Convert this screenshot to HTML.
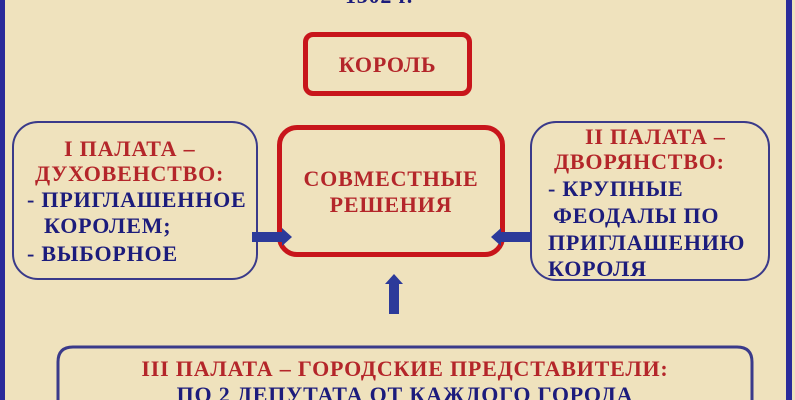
<!DOCTYPE html>
<html style="margin:0;width:795px;height:400px;overflow:hidden"><head><meta charset="utf-8"><style>
body{margin:0;width:795px;height:400px;overflow:hidden;background:#efe2bd;font-family:"Liberation Serif",serif;font-weight:bold}
#w{position:relative;width:795px;height:400px;overflow:hidden}
.b{position:absolute;box-sizing:border-box}
.r{color:#b4262a}.u{color:#1c1c7c}
.t{position:absolute;font-size:22px;line-height:26px;letter-spacing:0.8px;white-space:nowrap}
</style></head><body><div id="w">
<div class="b" style="left:0;top:0;width:5px;height:400px;background:#2a2a9a"></div>
<div class="b" style="left:786px;top:0;width:6px;height:400px;background:#2a2a9a"></div>
<div class="t u" style="left:345px;top:-17px">1302 г.</div>
<div class="b" style="left:303px;top:32px;width:169px;height:64px;border:5px solid #c8151b;border-radius:10px"></div>
<div class="t r" style="left:303px;top:52px;width:169px;text-align:center">КОРОЛЬ</div>
<div class="b" style="left:12px;top:121px;width:246px;height:159px;border:2px solid #3a3a8a;border-radius:26px"></div>
<div class="t r" style="left:64px;top:136px">I ПАЛАТА –</div>
<div class="t r" style="left:35px;top:161px">ДУХОВЕНСТВО:</div>
<div class="t u" style="left:27px;top:187px">- ПРИГЛАШЕННОЕ</div>
<div class="t u" style="left:44px;top:213px">КОРОЛЕМ;</div>
<div class="t u" style="left:27px;top:241px">- ВЫБОРНОЕ</div>
<div class="b" style="left:277px;top:125px;width:228px;height:132px;border:5px solid #c8151b;border-radius:20px"></div>
<div class="t r" style="left:277px;top:166px;width:228px;text-align:center">СОВМЕСТНЫЕ<br>РЕШЕНИЯ</div>
<div class="b" style="left:530px;top:121px;width:240px;height:160px;border:2px solid #3a3a8a;border-radius:26px"></div>
<div class="t r" style="left:585px;top:124px">II ПАЛАТА –</div>
<div class="t r" style="left:554px;top:149px">ДВОРЯНСТВО:</div>
<div class="t u" style="left:548px;top:176px">- КРУПНЫЕ</div>
<div class="t u" style="left:553px;top:203px">ФЕОДАЛЫ ПО</div>
<div class="t u" style="left:548px;top:230px">ПРИГЛАШЕНИЮ</div>
<div class="t u" style="left:548px;top:256px">КОРОЛЯ</div>
<svg class="b" style="left:0;top:0" width="795" height="400">
<path d="M252 232 H282 V228 L292 237 L282 246 V242 H252Z" fill="#2c3a9a"/>
<path d="M531 232 H501 V228 L491 237 L501 246 V242 H531Z" fill="#2c3a9a"/>
<path d="M389 314 V284 H385 L394 274 L403 284 H399 V314Z" fill="#2c3a9a"/>
<path d="M58 400 V362 Q58 347 73 347 H737 Q752 347 752 362 V400" fill="none" stroke="#3a3a8a" stroke-width="3"/>
</svg>
<div class="t r" style="left:57px;top:356px;width:696px;text-align:center">III ПАЛАТА – ГОРОДСКИЕ ПРЕДСТАВИТЕЛИ:</div>
<div class="t u" style="left:57px;top:382px;width:696px;height:18px;overflow:hidden;text-align:center">ПО 2 ДЕПУТАТА ОТ КАЖДОГО ГОРОДА</div>
</div></body></html>
